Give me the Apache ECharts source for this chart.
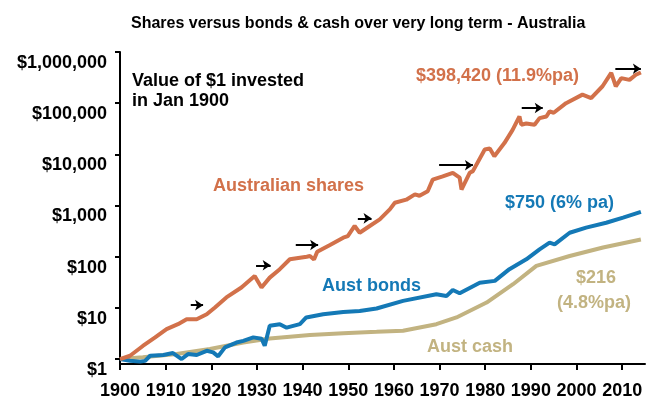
<!DOCTYPE html>
<html>
<head>
<meta charset="utf-8">
<script src="https://cdn.jsdelivr.net/npm/echarts@6/dist/echarts.min.js"></script>
<style>
  html, body { margin: 0; padding: 0; background: #fff; }
  #chart { width: 646px; height: 400px; }
</style>
</head>
<body>
<div id="chart"></div>
<script>
// values (year, $ value of $1 invested in 1900)
const sharesYears = [1900, 1902.2, 1905, 1907.7, 1910.2, 1912.7, 1914.6, 1916.8, 1919, 1920.8, 1923.3, 1926.6, 1929.5, 1931, 1932.8, 1935, 1937.2, 1940.9, 1941.6, 1942.5, 1943.2, 1946, 1948.9, 1949.9, 1951.4, 1952.5, 1954.7, 1956.9, 1959.1, 1960.2, 1962.7, 1964.6, 1965.6, 1967.4, 1968.5, 1970.7, 1972.9, 1974.4, 1974.8, 1976.6, 1977.3, 1979.9, 1981, 1982, 1984.2, 1986, 1987.5, 1987.9, 1989, 1990.8, 1991.9, 1993.4, 1994.1, 1995, 1997.7, 2001.3, 2003.2, 2005.7, 2007.6, 2008.6, 2009.8, 2011.6, 2013, 2014.1]
const sharesValues = [1, 1.16, 1.8, 2.65, 3.85, 4.8, 6.0, 6.0, 7.5, 10.2, 16, 25, 42, 25, 39, 57, 89, 100, 103, 88, 125, 170, 235, 253, 398, 294, 398, 535, 840, 1130, 1300, 1650, 1550, 1900, 3200, 3700, 4350, 3500, 2050, 4350, 4700, 12400, 13000, 9200, 16600, 30000, 55000, 38000, 40000, 38000, 51000, 55000, 69000, 65000, 100000, 147000, 126000, 214000, 390000, 214000, 309000, 285000, 360000, 398420]

const bondsYears = [1900, 1902.2, 1904.4, 1905.5, 1906.6, 1909.5, 1911.6, 1913.5, 1914.9, 1916.8, 1919, 1920.4, 1921.5, 1923, 1925.5, 1927, 1929.2, 1931, 1931.7, 1932.8, 1935, 1936.5, 1939.4, 1940.8, 1944.5, 1948.9, 1952.5, 1956.2, 1962, 1969.3, 1971.5, 1972.9, 1974.4, 1978.8, 1982.1, 1985.3, 1989, 1991.9, 1994.1, 1995.2, 1998.5, 2002.1, 2006.5, 2010.2, 2014.1]
const bondsValues = [1, 0.93, 0.89, 0.92, 1.16, 1.2, 1.31, 1.0, 1.25, 1.2, 1.45, 1.35, 1.13, 1.69, 2.1, 2.27, 2.65, 2.5, 1.82, 4.47, 4.8, 4.1, 4.8, 6.5, 7.5, 8.3, 8.7, 9.7, 13.7, 18.5, 17, 22.4, 19.3, 31, 33.7, 57, 89, 139, 188, 174, 294, 370, 460, 580, 750]

const cashYears = [1900, 1905, 1912.4, 1919.7, 1927, 1932.8, 1941.6, 1948.9, 1956.2, 1962, 1969.3, 1973.7, 1980.3, 1986.1, 1991.2, 1998.5, 2005.8, 2014.1]
const cashValues = [1, 1.08, 1.25, 1.57, 2.1, 2.53, 2.94, 3.2, 3.4, 3.57, 4.8, 6.5, 12.7, 29, 66, 103, 151, 216]

// black arrows: [from year, to year, level]
const arrows = [
  [1915.5, 1918.2, 11.3],
  [1929.8, 1933, 68],
  [1938.5, 1943.4, 169],
  [1952.1, 1955.1, 561],
  [1969.9, 1977.3, 6130],
  [1988, 1992.6, 80600],
  [2008.5, 2014.1, 471000]
]

const yTicks = [1, 10, 100, 1000, 10000, 100000, 1000000]
const xTicks = [1900, 1910, 1920, 1930, 1940, 1950, 1960, 1970, 1980, 1990, 2000, 2010]

const FONT = '"Liberation Sans", Arial, sans-serif'
const ORANGE = '#D2714A'
const BLUE = '#1479B6'
const TAN = '#C2B381'

const pairs = (xs, ys) => xs.map((x, i) => [x, ys[i]])

const myChart = echarts.init(document.getElementById('chart'))
const option = {
  animation: false,
  title: {
    text: 'Shares versus bonds & cash over very long term - Australia',
    left: 126,
    top: 11,
    textStyle: { fontFamily: FONT, fontSize: 16, fontWeight: 'bold', color: '#000' }
  },
  grid: { left: 120, right: 1, top: 52, bottom: 35 },
  xAxis: {
    type: 'value',
    min: 1900,
    max: 2015,
    splitLine: { show: false },
    axisLine: { lineStyle: { color: '#000', width: 2 } },
    axisTick: { customValues: xTicks, length: 6, lineStyle: { color: '#000', width: 2 } },
    axisLabel: {
      customValues: xTicks,
      margin: 18,
      fontFamily: FONT, fontSize: 18, fontWeight: 'bold', color: '#000',
      formatter: v => String(v)
    }
  },
  yAxis: {
    type: 'log',
    logBase: 10,
    min: 0.8,
    max: 1000000,
    splitLine: { show: false },
    axisLine: { show: true, lineStyle: { color: '#000', width: 2 } },
    axisTick: { show: true, customValues: yTicks, length: 5, lineStyle: { color: '#000', width: 2 } },
    axisLabel: {
      customValues: yTicks,
      margin: 13,
      verticalAlign: 'top',
      padding: [2, 0, 0, 0],
      fontFamily: FONT, fontSize: 18, fontWeight: 'bold', color: '#000',
      formatter: v => '$' + Math.round(v).toLocaleString('en-US')
    }
  },
  series: [
    {
      name: 'Aust cash',
      type: 'line',
      data: pairs(cashYears, cashValues),
      showSymbol: false,
      lineStyle: { color: TAN, width: 4 },
      itemStyle: { color: TAN }
    },
    {
      name: 'Aust bonds',
      type: 'line',
      data: pairs(bondsYears, bondsValues),
      showSymbol: false,
      lineStyle: { color: BLUE, width: 4 },
      itemStyle: { color: BLUE }
    },
    {
      name: 'Australian shares',
      type: 'line',
      data: pairs(sharesYears, sharesValues),
      showSymbol: false,
      lineStyle: { color: ORANGE, width: 4 },
      itemStyle: { color: ORANGE },
      markLine: {
        silent: true,
        symbol: ['none', 'arrow'],
        symbolSize: 8,
        label: { show: false },
        lineStyle: { color: '#000', width: 2, type: 'solid' },
        data: arrows.map(a => [{ coord: [a[0], a[2]] }, { coord: [a[1], a[2]] }])
      }
    }
  ],
  graphic: [
    { type: 'text', left: 132, top: 71, style: { text: 'Value of $1 invested\nin Jan 1900', font: 'bold 18px ' + FONT, lineHeight: 20, fill: '#000' } },
    { type: 'text', left: 213, top: 177, style: { text: 'Australian shares', font: 'bold 18px ' + FONT, fill: ORANGE } },
    { type: 'text', left: 416, top: 67, style: { text: '$398,420 (11.9%pa)', font: 'bold 18px ' + FONT, fill: ORANGE } },
    { type: 'text', left: 505, top: 194, style: { text: '$750 (6% pa)', font: 'bold 18px ' + FONT, fill: BLUE } },
    { type: 'text', left: 322, top: 277, style: { text: 'Aust bonds', font: 'bold 18px ' + FONT, fill: BLUE } },
    { type: 'text', left: 576, top: 269, style: { text: '$216', font: 'bold 18px ' + FONT, fill: TAN } },
    { type: 'text', left: 557, top: 294, style: { text: '(4.8%pa)', font: 'bold 18px ' + FONT, fill: TAN } },
    { type: 'text', left: 427, top: 338, style: { text: 'Aust cash', font: 'bold 18px ' + FONT, fill: TAN } }
  ]
}
myChart.setOption(option)
</script>
</body>
</html>
